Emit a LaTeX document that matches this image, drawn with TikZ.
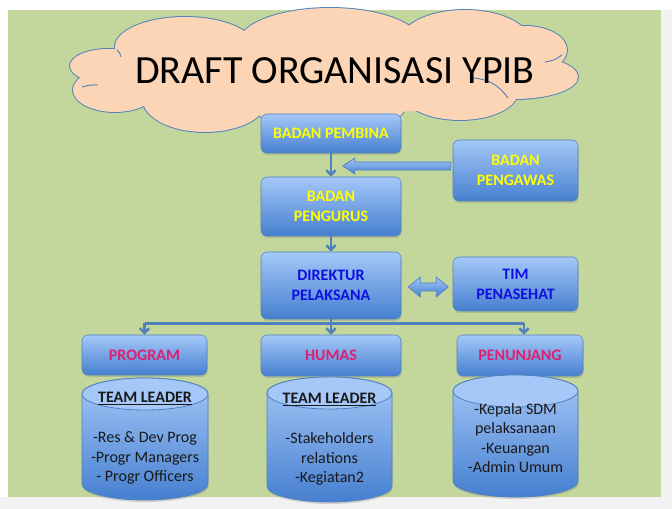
\documentclass[tikz,border=0pt]{standalone}
\usepackage{fontspec}
\setmainfont{Carlito}
\usetikzlibrary{shadows,arrows.meta,calc}

\definecolor{bggreen}{RGB}{195,214,155}
\definecolor{cloudfill}{RGB}{251,213,181}
\definecolor{officeblue}{RGB}{79,129,189}
\definecolor{boxtop}{RGB}{165,200,248}
\definecolor{boxbottom}{RGB}{70,127,208}
\definecolor{txtyellow}{RGB}{255,255,0}
\definecolor{txtblue}{RGB}{15,15,225}
\definecolor{txtpink}{RGB}{222,32,110}
\definecolor{pagegray}{RGB}{242,242,242}

\tikzset{
  orgbox/.style={draw=officeblue, rounded corners=4.5pt, top color=boxtop, bottom color=boxbottom,
    inner sep=0pt, align=center, font=\bfseries\fontsize{12}{15}\selectfont,
    drop shadow={opacity=0.3, shadow xshift=0.5pt, shadow yshift=-1.5pt}},
  link/.style={officeblue, line width=1.9pt, -{Straight Barb[length=3.5pt,width=7pt]}},
  busline/.style={officeblue, line width=1.9pt},
  blockarrow/.style={draw=officeblue, top color=boxtop, bottom color=boxbottom, line width=0.5pt},
  cylbody/.style={draw=officeblue, top color=boxtop, bottom color=boxbottom, line width=0.6pt,
    drop shadow={opacity=0.3, shadow xshift=0.5pt, shadow yshift=-1.5pt}},
  cyltop/.style={draw=officeblue, fill=boxtop, line width=0.6pt},
  cyltext/.style={align=center, font=\fontsize{12}{14.5}\selectfont, text=black!90},
  puffline/.style={draw=officeblue, fill=cloudfill, line width=1.4pt},
  pufffill/.style={fill=cloudfill},
  puffinner/.style={draw=officeblue, line width=0.7pt},
}

\begin{document}
\begin{tikzpicture}[x=0.75pt, y=0.75pt]

            % Page and background
            \useasboundingbox (0,0) rectangle (672,509);
            \fill[pagegray] (0,0) rectangle (672,509);
            \fill[white] (0,499) rectangle (672,509);
            \fill[white] (0,12) rectangle (8,509);
            \fill[bggreen] (8,12) rectangle (661,499);

            % Title cloud: outlined puffs, then filled again to keep only the outer rim
            \foreach \px/\py/\rx/\ry in {108/443/38/17, 115/419/42/22, 185/462/70/30, 330/465/92/36,
                465/467/65/32, 525/459/42/24, 515/432/63/22, 460/417/58/28, 330/409/78/36, 205/409/62/32}
              \draw[puffline] (\px,\py) ellipse [x radius=\rx, y radius=\ry];
            \foreach \px/\py/\rx/\ry in {108/443/38/17, 115/419/42/22, 185/462/70/30, 330/465/92/36,
                465/467/65/32, 525/459/42/24, 515/432/63/22, 460/417/58/28, 330/409/78/36, 205/409/62/32,
                330/437/225/42}
              \fill[pufffill] (\px,\py) ellipse [x radius=\rx, y radius=\ry];
            % inner creases of the cloud
            \draw[puffinner] (473,431) to[bend left=25] (508,411);
            \draw[puffinner] (545,447) to[bend right=15] (562,454);
            \draw[puffinner] (82,422) to[bend left=10] (98,424);
            \draw[puffinner] (117,459) to[bend left=20] (121,452);
            \node[font=\fontsize{30}{36}\selectfont] (title) at (335,438) {DRAFT ORGANISASI YPIB};

            % Boards
            \node[orgbox, text=txtyellow, minimum width=105pt, minimum height=29.25pt] (pembina) at (331,375.5) {BADAN PEMBINA};
            \node[orgbox, text=txtyellow, minimum width=93.75pt, minimum height=45.75pt] (pengawas) at (515.5,338.5) {BADAN\\PENGAWAS};
            \node[orgbox, text=txtyellow, minimum width=105pt, minimum height=44.25pt] (pengurus) at (331,302.5) {BADAN\\PENGURUS};

            % Director and advisors
            \node[orgbox, text=txtblue, minimum width=105pt, minimum height=50.25pt] (direktur) at (331,223.5) {DIREKTUR\\PELAKSANA};
            \node[orgbox, text=txtblue, minimum width=93.75pt, minimum height=40.5pt] (penasehat) at (515.5,225) {TIM\\PENASEHAT};

            % Divisions
            \node[orgbox, text=txtpink, minimum width=93.75pt, minimum height=30pt] (program) at (144.5,154) {PROGRAM};
            \node[orgbox, text=txtpink, minimum width=105pt, minimum height=30.75pt] (humas) at (331,153.5) {HUMAS};
            \node[orgbox, text=txtpink, minimum width=94.5pt, minimum height=30.75pt] (penunjang) at (520,153.5) {PENUNJANG};

            % Block arrow from the supervisory board
            \coordinate (pgtail) at ($(pengawas.west)+(-2,4.5)$);
            \draw[blockarrow] (pgtail) ++(0,4) -- ++(-96,0) -- ++(0,4) -- ++(-12,-8) -- ++(12,-8)
                -- ++(0,4) -- ++(96,0) -- cycle;

            % Double arrow to the advisors
            \coordinate (dtip) at ($(direktur.east)+(7,-1.5)$);
            \draw[blockarrow] (dtip) -- ++(12,10) -- ++(0,-6) -- ++(16,0) -- ++(0,6) -- ++(12,-10)
                -- ++(-12,-10) -- ++(0,6) -- ++(-16,0) -- ++(0,-6) -- cycle;

            % Connectors
            \draw[link] (pembina) -- (pengurus);
            \draw[link] (pengurus) -- (direktur);
            \coordinate (bus) at ($(direktur.south)+(0,-4)$);
            \coordinate (busright) at ($(penunjang.north |- bus)+(4,0)$);
            \draw[busline] (direktur.south) -- (bus);
            \draw[busline] (program.north |- bus) -- (busright);
            \draw[link] (program.north |- bus) -- (program.north);
            \draw[link] (bus) -- (humas.north);
            \draw[link] (busright) -- ($(penunjang.north)+(4,0)$);

            % Staff cylinders
            \foreach \cx/\rx/\ctop/\cbot in {145/63/131/9, 329.5/62.5/132/7, 515.5/62.5/134/12} {
              \draw[cylbody] (\cx-\rx,\ctop-16) -- (\cx-\rx,\cbot+16)
                  arc[start angle=180, end angle=360, x radius=\rx, y radius=16]
                  -- (\cx+\rx,\ctop-16)
                  arc[start angle=0, end angle=180, x radius=\rx, y radius=16] -- cycle;
              \draw[cyltop] (\cx,\ctop-16) ellipse [x radius=\rx, y radius=16];
            }

            % Staff labels
            \node[cyltext] (progleader) at (145,110) {\textbf{\underline{TEAM LEADER}}};
            \node[cyltext] (proglist) at (145,51) {-Res \& Dev Prog\\-Progr Managers\\- Progr Officers};
            \node[cyltext] (humasleader) at (329.5,109) {\textbf{\underline{TEAM LEADER}}};
            \node[cyltext] (humaslist) at (329.5,50) {-Stakeholders\\relations\\-Kegiatan2};
            \node[cyltext] (penunjanglist) at (515.5,71) {-Kepala SDM\\pelaksanaan\\-Keuangan\\-Admin Umum};
            \end{tikzpicture}
\end{document}
